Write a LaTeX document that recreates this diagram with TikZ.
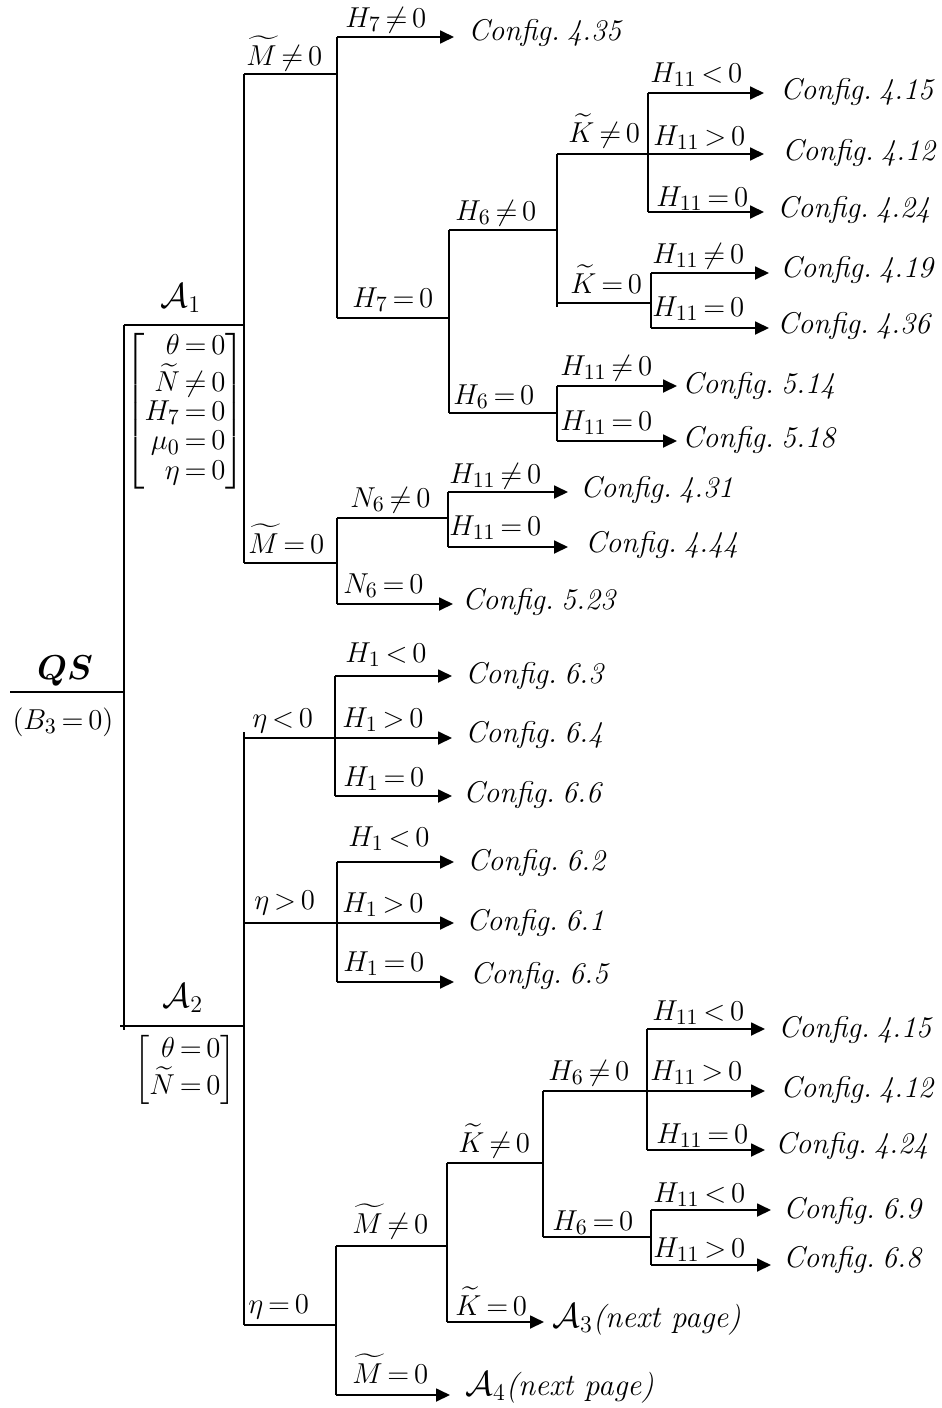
\documentclass[tikz,border=0pt]{standalone}
\usepackage{amsmath,bm}
\usetikzlibrary{arrows.meta}
\newcommand{\cfgtext}[1]{Config.\hspace{0.24em}#1}
\newcommand{\bigA}[1]{{\fontsize{18.5}{20}\selectfont$\mathcal{A}_{#1}$}}
\tikzset{
  br/.style={line width=0.9pt},
  arr/.style={br,-{Triangle[length=7pt,width=6.5pt]}},
  lab/.style={anchor=base west,inner sep=0pt},
  cfg/.style={anchor=base west,inner sep=0pt,font=\fontsize{15}{18}\selectfont\itshape},
  mid/.style={anchor=center,inner sep=0pt},
}
\begin{document}
\thickmuskip=3mu plus 1mu
\begin{tikzpicture}[x=0.5pt,y=-0.5pt,font=\fontsize{15.5}{18.5}\selectfont]
\useasboundingbox (0,0) rectangle (942,1408);

% ---------- root ----------
\node[mid] (qs) at (65,671) {\fontsize{17.5}{20}\selectfont$\bm{QS}$};
\node[mid] (b3) at (63,722) {$(B_3=0)$};
\coordinate (q0) at (10,692);
\coordinate (q1) at (124,692);
\coordinate (rt) at (124,325);
\coordinate (rb) at (124,1030);
\draw[br] (q0) -- (q1);
\draw[br] (rt) -- (rb);

% ---------- A1 ----------
\node[mid] (A1) at (181,298) {\bigA{1}};
\node[mid] (A1c) at (185,411) {$\renewcommand{\arraystretch}{0.79}\left[\begin{array}{@{}r@{}}\theta=0\\ \widetilde{N}\neq0\\ H_7=0\\ \mu_0=0\\ \eta=0\end{array}\right]$};
\coordinate (a1) at (244,325);
\coordinate (a1t) at (244,74);
\coordinate (a1b) at (244,563);
\draw[br] (rt) -- (a1);
\draw[br] (a1t) -- (a1b);

% M~ != 0
\coordinate (mn) at (337,74);
\coordinate (mnt) at (337,37);
\coordinate (mnb) at (337,318);
\node[lab] (lmn) at (246,65) {$\widetilde{M}\neq0$};
\draw[br] (a1t) -- (mn);
\draw[br] (mnt) -- (mnb);
\coordinate (t435) at (454,37);
\node[lab] (lh7n) at (345,27) {$H_7\neq0$};
\node[cfg] (c435) at (468,40) {\cfgtext{4.35}};
\draw[arr] (mnt) -- (t435);

% H7 = 0
\coordinate (h7z) at (449,318);
\coordinate (h7zt) at (449,230);
\coordinate (h7zb) at (449,413);
\node[lab] (lh7z) at (352,307) {$H_7=0$};
\draw[br] (mnb) -- (h7z);
\draw[br] (h7zt) -- (h7zb);

% H6 != 0
\coordinate (h6n) at (557,230);
\coordinate (h6nt) at (557,154);
\coordinate (h6nb) at (557,307);
\node[lab] (lh6n) at (455,220) {$H_6\neq0$};
\draw[br] (h7zt) -- (h6n);
\draw[br] (h6nt) -- (h6nb);

% K~ != 0
\coordinate (kn) at (648,154);
\coordinate (knt) at (648,93);
\coordinate (knb) at (648,212);
\node[lab] (lkn) at (568,142) {$\widetilde{K}\neq0$};
\draw[br] (h6nt) -- (kn);
\draw[br] (knt) -- (knb);
\coordinate (t415) at (764,93);
\coordinate (t412) at (764,154);
\coordinate (t424) at (764,212);
\node[lab] (l1) at (650,82) {$H_{11}<0$};
\node[lab] (l2) at (653,145) {$H_{11}>0$};
\node[lab] (l3) at (656,206) {$H_{11}=0$};
\node[cfg] (c415) at (780,99) {\cfgtext{4.15}};
\node[cfg] (c412) at (782,160) {\cfgtext{4.12}};
\node[cfg] (c424) at (777,217) {\cfgtext{4.24}};
\draw[arr] (knt) -- (t415);
\draw[arr] (kn) -- (t412);
\draw[arr] (knb) -- (t424);

% K~ = 0
\coordinate (kz0) at (557,303);
\coordinate (kz) at (651,303);
\coordinate (kzt) at (651,273);
\coordinate (kzb) at (651,328);
\node[lab] (lkz) at (570,293) {$\widetilde{K}=0$};
\draw[br] (kz0) -- (kz);
\draw[br] (kzt) -- (kzb);
\coordinate (t419) at (769,273);
\coordinate (t436) at (769,328);
\node[lab] (l4) at (652,263) {$H_{11}\neq0$};
\node[lab] (l5) at (652,316) {$H_{11}=0$};
\node[cfg] (c419) at (780,277) {\cfgtext{4.19}};
\node[cfg] (c436) at (777,333) {\cfgtext{4.36}};
\draw[arr] (kzt) -- (t419);
\draw[arr] (kzb) -- (t436);

% H6 = 0
\coordinate (h6z) at (557,413);
\coordinate (h6zt) at (557,386);
\coordinate (h6zb) at (557,441);
\node[lab] (lh6z) at (453,404) {$H_6=0$};
\draw[br] (h7zb) -- (h6z);
\draw[br] (h6zt) -- (h6zb);
\coordinate (t514) at (677,386);
\coordinate (t518) at (677,441);
\node[lab] (l6) at (560,375) {$H_{11}\neq0$};
\node[lab] (l7) at (560,430) {$H_{11}=0$};
\node[cfg] (c514) at (682,393) {\cfgtext{5.14}};
\node[cfg] (c518) at (682,447) {\cfgtext{5.18}};
\draw[arr] (h6zt) -- (t514);
\draw[arr] (h6zb) -- (t518);

% M~ = 0
\coordinate (mz) at (337,563);
\coordinate (mzt) at (337,518);
\coordinate (mzb) at (337,604);
\node[lab] (lmz) at (248,553) {$\widetilde{M}=0$};
\draw[br] (a1b) -- (mz);
\draw[br] (mzt) -- (mzb);

% N6 != 0
\coordinate (n6) at (448,518);
\coordinate (n6t) at (448,492);
\coordinate (n6b) at (448,547);
\node[lab] (ln6n) at (350,507) {$N_6\neq0$};
\draw[br] (mzt) -- (n6);
\draw[br] (n6t) -- (n6b);
\coordinate (t431) at (568,492);
\coordinate (t444) at (568,547);
\node[lab] (l8) at (449,483) {$H_{11}\neq0$};
\node[lab] (l9) at (449,535) {$H_{11}=0$};
\node[cfg] (c431) at (580,497) {\cfgtext{4.31}};
\node[cfg] (c444) at (585,552) {\cfgtext{4.44}};
\draw[arr] (n6t) -- (t431);
\draw[arr] (n6b) -- (t444);

% N6 = 0
\coordinate (t523) at (453,604);
\node[lab] (ln6z) at (343,593) {$N_6=0$};
\node[cfg] (c523) at (462,609) {\cfgtext{5.23}};
\draw[arr] (mzb) -- (t523);

% ---------- A2 ----------
\node[mid] (A2) at (183,998) {\bigA{2}};
\node[mid] (A2c) at (185,1070) {$\renewcommand{\arraystretch}{0.79}\left[\begin{array}{@{}r@{}}\theta=0\\ \widetilde{N}=0\end{array}\right]$};
\coordinate (a2l) at (120,1026);
\coordinate (a2) at (244,1026);
\coordinate (a2t) at (244,732);
\coordinate (a2b) at (244,1325);
\draw[br] (a2l) -- (a2);
\draw[br] (a2t) -- (a2b);

% eta < 0
\coordinate (e0) at (244,738);
\coordinate (en) at (335,738);
\coordinate (ent) at (335,676);
\coordinate (enb) at (335,796);
\node[lab] (len) at (252,727) {$\eta<0$};
\draw[br] (e0) -- (en);
\draw[br] (ent) -- (enb);
\coordinate (t63) at (452,676);
\coordinate (t64) at (452,738);
\coordinate (t66) at (452,796);
\node[lab] (m1) at (345,662) {$H_1<0$};
\node[lab] (m2) at (342,727) {$H_1>0$};
\node[lab] (m3) at (343,786) {$H_1=0$};
\node[cfg] (c63) at (465,683) {\cfgtext{6.3}};
\node[cfg] (c64) at (465,742) {\cfgtext{6.4}};
\node[cfg] (c66) at (463,802) {\cfgtext{6.6}};
\draw[arr] (ent) -- (t63);
\draw[arr] (en) -- (t64);
\draw[arr] (enb) -- (t66);

% eta > 0
\coordinate (f0) at (244,923);
\coordinate (ep) at (337,923);
\coordinate (ept) at (337,862);
\coordinate (epb) at (337,982);
\node[lab] (lep) at (254,909) {$\eta>0$};
\draw[br] (f0) -- (ep);
\draw[br] (ept) -- (epb);
\coordinate (t62) at (454,862);
\coordinate (t61) at (454,923);
\coordinate (t65) at (454,982);
\node[lab] (m4) at (348,846) {$H_1<0$};
\node[lab] (m5) at (342,912) {$H_1>0$};
\node[lab] (m6) at (343,971) {$H_1=0$};
\node[cfg] (c62) at (467,870) {\cfgtext{6.2}};
\node[cfg] (c61) at (466,930) {\cfgtext{6.1}};
\node[cfg] (c65) at (470,983) {\cfgtext{6.5}};
\draw[arr] (ept) -- (t62);
\draw[arr] (ep) -- (t61);
\draw[arr] (epb) -- (t65);

% eta = 0
\coordinate (ez) at (336,1325);
\coordinate (ezt) at (336,1246);
\coordinate (ezb) at (336,1395);
\node[lab] (lez) at (248,1313) {$\eta=0$};
\draw[br] (a2b) -- (ez);
\draw[br] (ezt) -- (ezb);

% M~ != 0
\coordinate (bm) at (447,1246);
\coordinate (bmt) at (447,1163);
\coordinate (bmb) at (447,1322);
\node[lab] (lbm) at (352,1233) {$\widetilde{M}\neq0$};
\draw[br] (ezt) -- (bm);
\draw[br] (bmt) -- (bmb);

% K~ != 0
\coordinate (bk) at (543,1163);
\coordinate (bkt) at (543,1091);
\coordinate (bkb) at (543,1237);
\node[lab] (lbk) at (458,1152) {$\widetilde{K}\neq0$};
\draw[br] (bmt) -- (bk);
\draw[br] (bkt) -- (bkb);

% H6 != 0
\coordinate (bh) at (647,1091);
\coordinate (bht) at (647,1029);
\coordinate (bhb) at (647,1150);
\node[lab] (lbh) at (548,1080) {$H_6\neq0$};
\draw[br] (bkt) -- (bh);
\draw[br] (bht) -- (bhb);
\coordinate (u415) at (765,1029);
\coordinate (u412) at (765,1091);
\coordinate (u424) at (765,1150);
\node[lab] (p1) at (652,1020) {$H_{11}<0$};
\node[lab] (p2) at (650,1080) {$H_{11}>0$};
\node[lab] (p3) at (656,1143) {$H_{11}=0$};
\node[cfg] (d415) at (778,1037) {\cfgtext{4.15}};
\node[cfg] (d412) at (780,1097) {\cfgtext{4.12}};
\node[cfg] (d424) at (775,1153) {\cfgtext{4.24}};
\draw[arr] (bht) -- (u415);
\draw[arr] (bh) -- (u412);
\draw[arr] (bhb) -- (u424);

% H6 = 0
\coordinate (bz) at (651,1237);
\coordinate (bzt) at (651,1210);
\coordinate (bzb) at (651,1265);
\node[lab] (lbz) at (552,1230) {$H_6=0$};
\draw[br] (bkb) -- (bz);
\draw[br] (bzt) -- (bzb);
\coordinate (u69) at (771,1210);
\coordinate (u68) at (771,1265);
\node[lab] (p4) at (653,1202) {$H_{11}<0$};
\node[lab] (p5) at (653,1257) {$H_{11}>0$};
\node[cfg] (d69) at (783,1218) {\cfgtext{6.9}};
\node[cfg] (d68) at (783,1267) {\cfgtext{6.8}};
\draw[arr] (bzt) -- (u69);
\draw[arr] (bzb) -- (u68);

% K~ = 0
\coordinate (ua3) at (544,1322);
\node[lab] (lbkz) at (455,1315) {$\widetilde{K}=0$};
\node[lab] (A3) at (552,1327) {\bigA{3}\textit{(next\ page)}};
\draw[arr] (bmb) -- (ua3);

% M~ = 0
\coordinate (ua4) at (450,1395);
\node[lab] (lbmz) at (352,1383) {$\widetilde{M}=0$};
\node[lab] (A4) at (465,1395) {\bigA{4}\textit{(next\ page)}};
\draw[arr] (ezb) -- (ua4);
\end{tikzpicture}
\end{document}
